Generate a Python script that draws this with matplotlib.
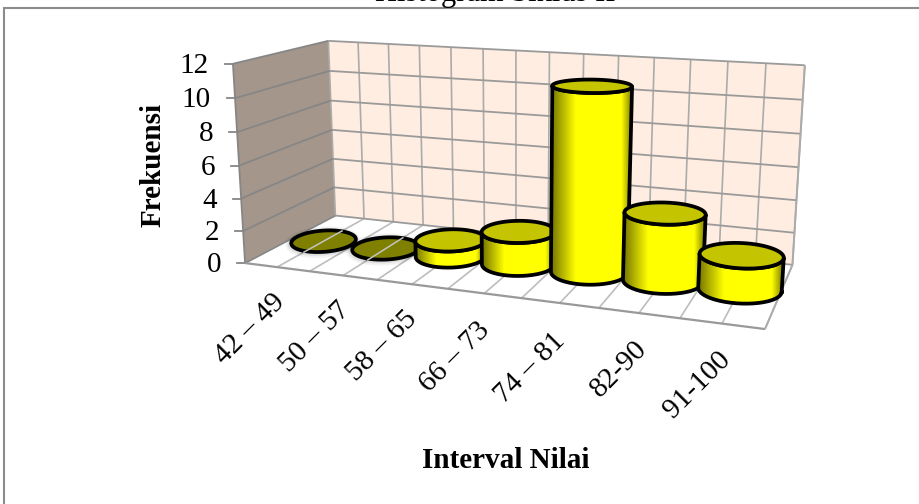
import numpy as np
import matplotlib
matplotlib.use("Agg")
import matplotlib.pyplot as plt
from matplotlib.patches import Polygon, Rectangle

# data
categories = ["42 – 49", "50 – 57", "58 – 65", "66 – 73", "74 – 81", "82-90", "91-100"]
freq = [0, 0, 1, 2, 11, 4, 2]
yticks = [0, 2, 4, 6, 8, 10, 12]

W, H = 920, 504
n = len(categories)
vmax = yticks[-1]

# box corners as seen in the picture: (cat pos, depth, value) -> (px, py)
corners = [
    ((0, 0, 0), (245, 262)), ((n, 0, 0), (765, 330)),
    ((0, 1, 0), (335, 215)), ((n, 1, 0), (792, 263)),
    ((0, 0, vmax), (233, 64)), ((0, 1, vmax), (328, 41)),
    ((n, 1, vmax), (805, 65)), ((1, 1, vmax), (389, 44)),
    ((3.5, 1, vmax), (549, 52)), ((3.5, 1, 0), (549, 241)),
]

# fit a camera matrix for the 3d box
A = []
for (X, Y, Z), (u, v) in corners:
    p = [X, Y, Z, 1]
    A.append(p + [0, 0, 0, 0] + [-u*c for c in p])
    A.append([0, 0, 0, 0] + p + [-v*c for c in p])
cam = np.linalg.svd(np.array(A, float))[2][-1].reshape(3, 4)


def proj(x, d, z):
    x, d, z = np.broadcast_arrays(x, d, z)
    q = cam @ np.array([x.ravel(), d.ravel(), z.ravel(), np.ones(x.size)], float)
    return q[0]/q[2], q[1]/q[2]


plt.rcParams["font.family"] = ["Liberation Serif", "DejaVu Serif"]
fig = plt.figure(figsize=(W/100, H/100), dpi=100)
ax = fig.add_axes([0, 0, 1, 1])
ax.axis("off")


def face(pts, **kw):
    x, y = proj(*zip(*pts))
    ax.add_patch(Polygon(np.c_[x, y], closed=True, **kw))


def line(p0, p1, **kw):
    x, y = proj(*zip(p0, p1))
    ax.plot(x, y, solid_capstyle="butt", **kw)


# chart frame runs off the right and bottom, top edge cuts through the title
ax.add_patch(Rectangle((4, 7.5), 1000, 600, fc="white", ec="#8c8c8c", lw=1.5, zorder=0))
ax.text(495, 0.5, "Histogram Siklus II", fontsize=22, ha="center", va="baseline", color="black", zorder=0.5)

# walls and floor
face([(0, 0, 0), (n, 0, 0), (n, 1, 0), (0, 1, 0)], fc="white", ec="none", zorder=1)
face([(0, 1, 0), (n, 1, 0), (n, 1, vmax), (0, 1, vmax)], fc="#FEEDE0", ec="none", zorder=1)
face([(0, 0, 0), (0, 1, 0), (0, 1, vmax), (0, 0, vmax)], fc="#A4968A", ec="none", zorder=1)

grid = "#ababab"
for i in range(2*n + 1):
    c = i/2
    line((c, 0, 0), (c, 1, 0), color="#bdbdbd", lw=1.2, zorder=2)
    line((c, 1, 0), (c, 1, vmax), color=grid, lw=1.2, zorder=2)
for t in yticks:
    line((0, 1, t), (n, 1, t), color="#9a9a9a", lw=1.3, zorder=2)
    line((0, 0, t), (0, 1, t), color="#868686", lw=1.3, zorder=2)
    # tick to the left of the front edge
    fx, fy = proj(0, 0, t)
    ax.plot([fx[0]-8, fx[0]], [fy[0], fy[0]], color="#868686", lw=1.3, zorder=2)
    ax.text(fx[0]-24, fy[0]+2, str(t), fontsize=21, ha="right", va="center", color="black")
line((0, 0, 0), (0, 0, vmax), color="#868686", lw=1.3, zorder=2)
line((0, 0, 0), (n, 0, 0), color="#999999", lw=1.6, zorder=2)
line((n, 0, 0), (n, 1, 0), color="#ababab", lw=1.4, zorder=2)
line((n, 1, 0), (n, 1, vmax), color=grid, lw=1.4, zorder=2)

# cylinders
rx = 0.53
rd = 0.22
dc = 0.5
th = np.linspace(0, 2*np.pi, 181)
ramp = np.linspace(0, 1, 200)
# dark at the sides, wider dark band on the left
glow = 0.45 + 0.55*np.clip(np.minimum(ramp/0.3, (1-ramp)/0.14), 0, 1)
side = np.dstack([glow, glow, np.zeros_like(glow)]).reshape(1, -1, 3)


def ellipse(cx, z, tilt):
    # screen aligned ellipse round the projected centre, as the chart draws them
    px, py = proj(cx, dc, z)
    x0, _ = proj(cx - rx, dc, z)
    x1, _ = proj(cx + rx, dc, z)
    _, y0 = proj(cx, dc - rd, z)
    _, y1 = proj(cx, dc + rd, z)
    a = (x1[0] - x0[0])/2
    b = abs(y1[0] - y0[0])/2
    ex = a*np.cos(th)
    ey = b*np.sin(th)
    return px[0] + ex*np.cos(tilt) - ey*np.sin(tilt), py[0] + ex*np.sin(tilt) + ey*np.cos(tilt)


for i, v in enumerate(freq):
    cx = i + 0.5
    tilt = np.radians(-4 + 7*i/(n-1))
    xb, yb = ellipse(cx, 0, tilt)
    z = 3 + i*0.01
    if v == 0:
        # soft shadow then flat disc
        for g, a in ((7, 0.05), (4, 0.08)):
            ax.fill(xb - 1, yb + 1, fc="black", alpha=a, ec="black", lw=g, zorder=z)
        ax.fill(xb, yb, fc="#7F7F00", ec="black", lw=2.7, zorder=z)
        lx, ly = proj([cx, cx], [dc - rd, dc + rd], [0, 0])
        ax.plot(lx, ly, color="#c4c4c4", lw=1.1, zorder=z+0.001)
        continue
    xt, yt = ellipse(cx, v, tilt)
    # side surface: lower half of base up to lower half of top
    low = np.arange(0, 91)
    ox = np.r_[xb[low], xt[low][::-1]]
    oy = np.r_[yb[low], yt[low][::-1]]
    body = Polygon(np.c_[ox, oy], closed=True, fc="none", ec="none", zorder=z)
    ax.add_patch(body)
    im = ax.imshow(side, extent=(ox.min(), ox.max(), oy.max(), oy.min()), aspect="auto", zorder=z, interpolation="bilinear")
    im.set_clip_path(body)
    ax.plot(np.r_[ox, ox[0]], np.r_[oy, oy[0]], color="black", lw=2.7, zorder=z+0.002, solid_joinstyle="round")
    ax.fill(xt, yt, fc="#C4C400", ec="black", lw=2.7, zorder=z+0.003)

# category labels
lab_x = [250, 315, 382, 455, 530, 619, 697]
lab_y = [329, 337, 346, 357, 368, 369, 385]
for c, lx, ly in zip(categories, lab_x, lab_y):
    ax.text(lx, ly, c, fontsize=21, rotation=45, rotation_mode="anchor", ha="center", va="center", color="black")

ax.text(505.5, 460, "Interval Nilai", fontsize=21, fontweight="bold", ha="center", va="center", color="black")
ax.text(153, 165, "Frekuensi", fontsize=21, fontweight="bold", rotation=90, ha="center", va="center", color="black")

ax.set_xlim(0, W)
ax.set_ylim(H, 0)
fig.savefig("out.png", dpi=100)
